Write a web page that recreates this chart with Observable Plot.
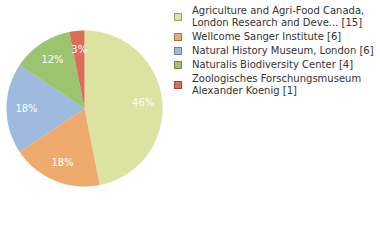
<!DOCTYPE html>
<html><head><meta charset="utf-8">
<script src="https://cdn.jsdelivr.net/npm/d3@7"></script>
<script src="https://cdn.jsdelivr.net/npm/@observablehq/plot@0.6"></script>
<style>
body{margin:0;background:#fff;}
#wrap{position:relative;width:380px;height:240px;font-family:"DejaVu Sans",sans-serif;}
#legend{position:absolute;left:174px;top:5px;font-size:10px;color:#333;line-height:12px;}
.item{display:flex;align-items:center;margin-bottom:2px;}
.sw{width:6px;height:6px;border:1px solid rgba(0,0,0,0.3);margin:0 10px 0 0;flex:none;}
</style></head>
<body><div id="wrap"><div id="chart"></div><div id="legend"></div></div>
<script>
const labels = ["Agriculture and Agri-Food Canada,\nLondon Research and Deve... [15]","Wellcome Sanger Institute [6]","Natural History Museum, London [6]","Naturalis Biodiversity Center [4]","Zoologisches Forschungsmuseum\nAlexander Koenig [1]"];
const values = [15, 6, 6, 4, 1];
const colors = ["#dce29f","#eeab6d","#9ebade","#9bc370","#dc6e55"];

const total = d3.sum(values);
const pie = d3.pie().sort(null).value(d => d)(values);
const pts = [];
const lbl = [];
pie.forEach((a, i) => {
  const n = Math.max(2, Math.ceil((a.endAngle - a.startAngle) / (Math.PI/180)));
  pts.push({k: i, x: 0, y: 0});
  for (let j = 0; j <= n; j++) {
    const t = a.startAngle + (a.endAngle - a.startAngle) * j / n;
    pts.push({k: i, x: Math.sin(t), y: Math.cos(t)});
  }
  pts.push({k: i, x: 0, y: 0});
  const m = (a.startAngle + a.endAngle) / 2;
  lbl.push({k: i, x: 0.75*Math.sin(m), y: 0.75*Math.cos(m), t: Math.floor(values[i]/total*100) + "%"});
});

const plot = Plot.plot({
  width: 380, height: 240,
  x: {domain: [-1, 1], range: [6, 162], axis: null},
  y: {domain: [-1, 1], range: [186, 30], axis: null},
  color: {type: "ordinal", domain: d3.range(values.length), range: colors},
  marks: [
    Plot.line(pts, {x: "x", y: "y", z: "k", fill: "k", stroke: null, curve: "linear"}),
    Plot.text(lbl, {x: "x", y: "y", text: "t", fill: "white", fontSize: 10, fontFamily: "DejaVu Sans", dx: 0.5, style: "letter-spacing:1px"})
  ],
  style: {background: "transparent"}
});
document.getElementById("chart").append(plot);

const leg = document.getElementById("legend");
labels.forEach((l, i) => {
  const it = document.createElement("div"); it.className = "item";
  const sw = document.createElement("div"); sw.className = "sw"; sw.style.background = colors[i];
  const tx = document.createElement("div"); tx.innerHTML = l.replace("\n", "<br>");
  it.append(sw, tx); leg.append(it);
});
</script></body></html>
